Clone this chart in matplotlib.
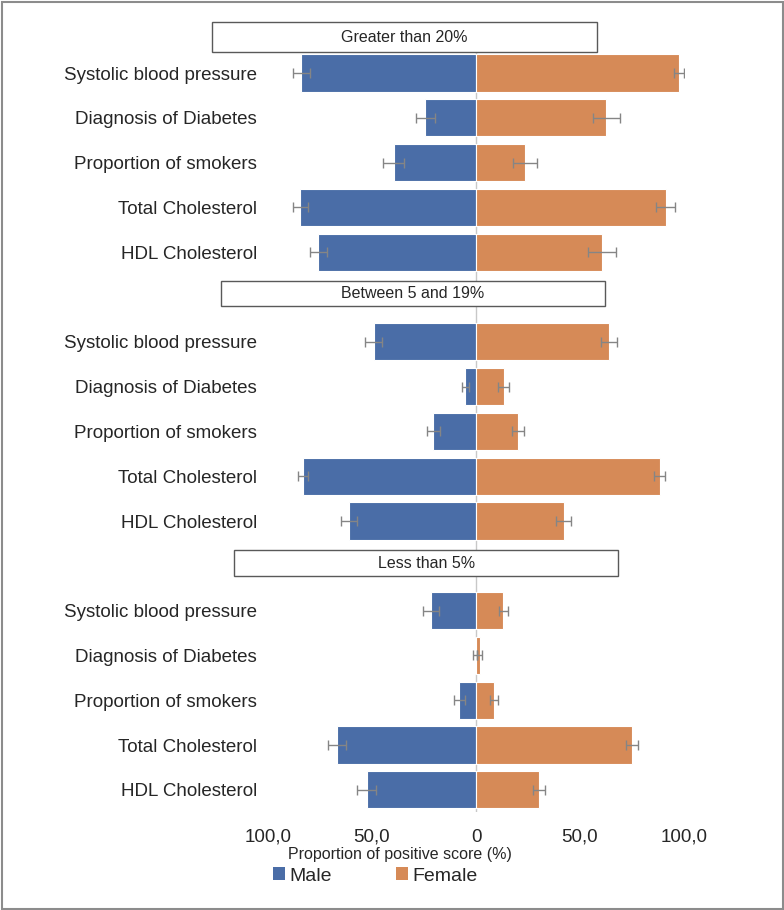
import matplotlib
matplotlib.use("Agg")
import matplotlib.pyplot as plt
from matplotlib.patches import Rectangle, Patch
import numpy as np

plt.rcParams['font.family'] = ['Liberation Sans', 'DejaVu Sans']

categories = ["Systolic blood pressure", "Diagnosis of Diabetes", "Proportion of smokers",
              "Total Cholesterol", "HDL Cholesterol"]
groups = ["Greater than 20%", "Between 5 and 19%", "Less than 5%"]

male_g20 = [84.0, 24.4, 39.6, 84.6, 75.8]
male_g20_err = [4.0, 4.6, 5.0, 3.6, 4.2]
female_g20 = [97.6, 62.7, 23.6, 91.2, 60.6]
female_g20_err = [2.4, 6.5, 5.6, 4.5, 6.8]

male_5_19 = [49.2, 5.1, 20.5, 83.2, 60.9]
male_5_19_err = [4.1, 1.6, 3.2, 2.5, 3.9]
female_5_19 = [63.9, 13.3, 20.2, 88.3, 42.1]
female_5_19_err = [3.7, 2.7, 2.9, 2.6, 3.6]

male_l5 = [21.6, 0.5, 8.0, 66.8, 52.6]
male_l5_err = [3.9, 1.0, 2.6, 4.5, 4.5]
female_l5 = [13.1, 1.9, 8.7, 75.0, 30.4]
female_l5_err = [2.2, 1.2, 1.8, 2.7, 2.8]

xticks = [-100, -50, 0, 50, 100]
xticklabels = ["100,0", "50,0", "0", "50,0", "100,0"]

male_vals = [male_g20, male_5_19, male_l5]
male_errs = [male_g20_err, male_5_19_err, male_l5_err]
female_vals = [female_g20, female_5_19, female_l5]
female_errs = [female_g20_err, female_5_19_err, female_l5_err]

BLUE = "#4A6DA7"
ORANGE = "#D68A57"
ERR = "#858585"
TXT = "#262626"

W, H = 784, 910
fig = plt.figure(figsize=(W / 100, H / 100), dpi=100)

def fx(px):
    return px / W

def fy(py):
    return 1 - py / H

# axes: x -100..100 -> 268..684 px ; rows: y_px = 73 + 44.8*i
row_px = 44.8
y0_px = 73
ylim_top, ylim_bot = -1.5, 16.5
top_px = y0_px + row_px * ylim_top
bot_px = y0_px + row_px * ylim_bot
ax = fig.add_axes([fx(268), fy(bot_px), fx(684) - fx(268), (bot_px - top_px) / H])
ax.set_xlim(-100, 100)
ax.set_ylim(ylim_bot, ylim_top)

ypos_all = []
labels_all = []
for g in range(3):
    ypos = np.arange(5) + 6 * g
    ypos_all.extend(ypos)
    labels_all.extend(categories)
    ax.barh(ypos, [-v for v in male_vals[g]], height=0.83, color=BLUE,
            edgecolor="white", linewidth=0.8, zorder=2)
    ax.barh(ypos, female_vals[g], height=0.83, color=ORANGE,
            edgecolor="white", linewidth=0.8, zorder=2)
    ax.errorbar([-v for v in male_vals[g]], ypos, xerr=male_errs[g], fmt="none",
                ecolor=ERR, elinewidth=1, capsize=3.5, capthick=1, zorder=3)
    ax.errorbar(female_vals[g], ypos, xerr=female_errs[g], fmt="none",
                ecolor=ERR, elinewidth=1, capsize=3.5, capthick=1, zorder=3)

ax.vlines(0, -0.46, ylim_bot, color="#C8C8C8", linewidth=1, zorder=1)

# group header boxes (x in data units, y in row units)
boxes = [(-126.9, 58.2, -1.145, -0.462), (-122.6, 62.0, 4.632, 5.208), (-116.3, 68.3, 10.647, 11.228)]
for (x1, x2, yt, yb), name in zip(boxes, groups):
    ax.add_patch(Rectangle((x1, yt), x2 - x1, yb - yt, facecolor="white",
                           edgecolor="#595959", linewidth=1, clip_on=False, zorder=4))
    ax.text((x1 + x2) / 2, (yt + yb) / 2, name, ha="center", va="center",
            fontsize=11.5, color=TXT, zorder=5, clip_on=False)

ax.set_yticks(ypos_all)
ax.set_yticklabels(labels_all, fontsize=13.5, color=TXT)
ax.set_xticks(xticks)
ax.set_xticklabels(xticklabels, fontsize=13.5, color=TXT)
ax.tick_params(axis="y", length=0, pad=8)
ax.tick_params(axis="x", length=0, pad=12)
for s in ax.spines.values():
    s.set_visible(False)

fig.text(fx(400), fy(855), "Proportion of positive score (%)", ha="center", va="center",
         fontsize=11.5, color=TXT)

handles = [Patch(facecolor=BLUE, edgecolor="none", label="Male"),
           Patch(facecolor=ORANGE, edgecolor="none", label="Female")]
fig.legend(handles=handles, loc="center", bbox_to_anchor=(fx(375), fy(876)), ncol=2,
           frameon=False, fontsize=14, handlelength=0.65, handleheight=0.65,
           handletextpad=0.2, columnspacing=3.3, labelcolor=TXT)

fig.patches.append(Rectangle((fx(1.5), fy(908.5)), fx(781), 907 / H, transform=fig.transFigure,
                             fill=False, edgecolor="#8C8C8C", linewidth=1.5))

fig.savefig("out.png", dpi=100)
